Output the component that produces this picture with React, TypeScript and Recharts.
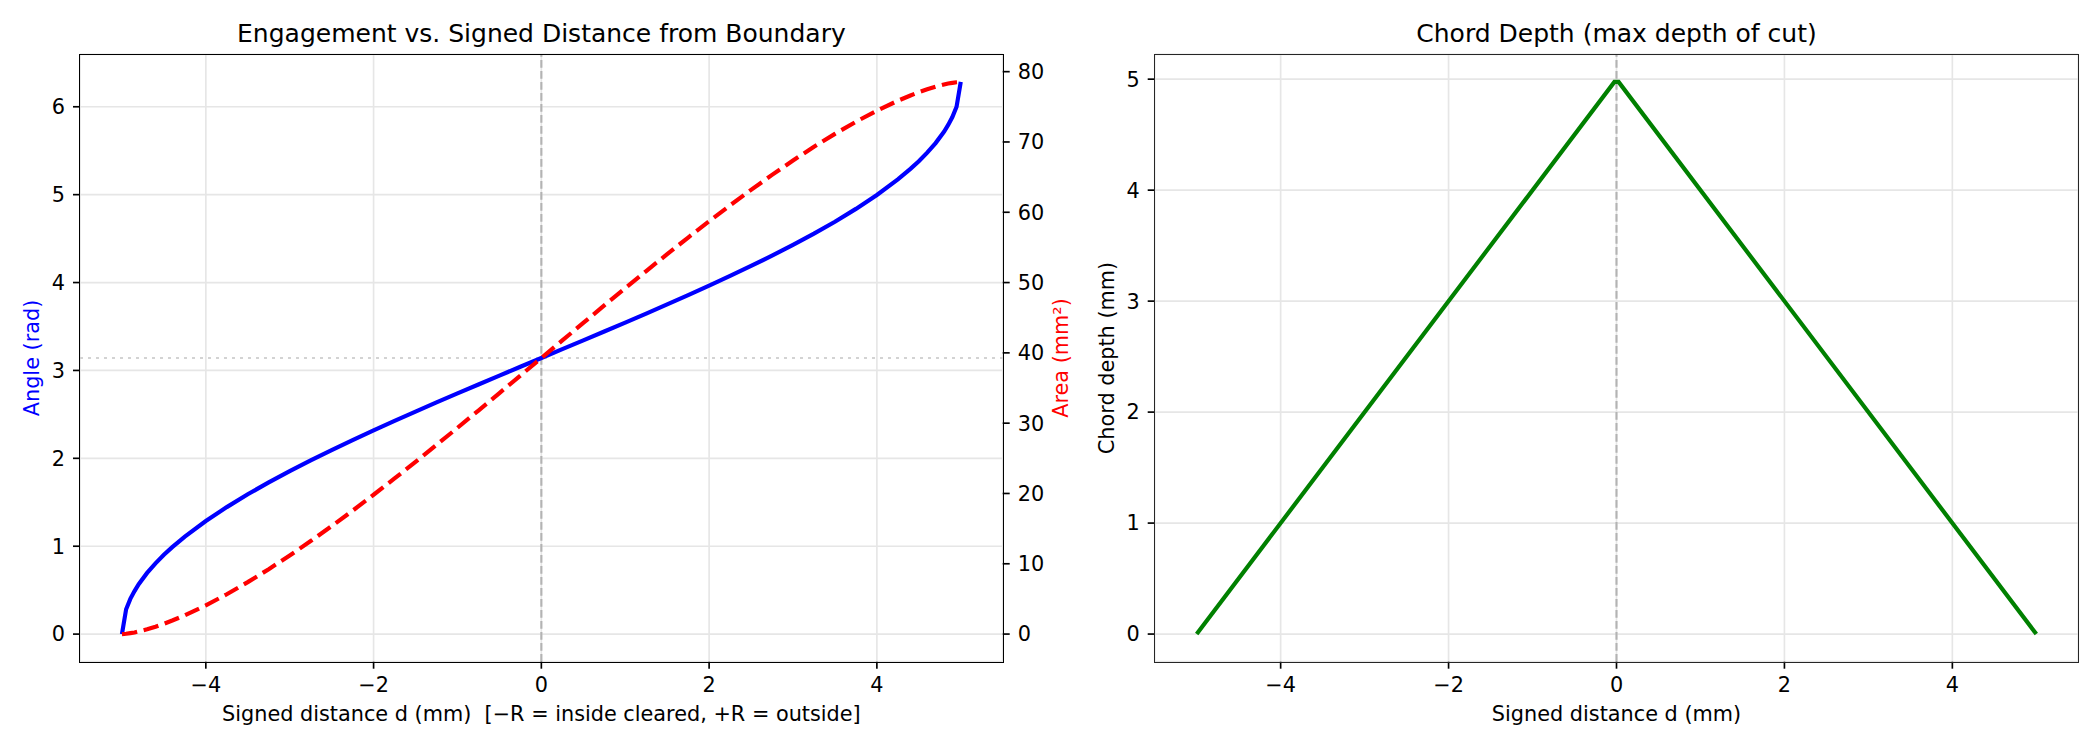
import React from 'react';
import { LineChart, Line, XAxis, YAxis, CartesianGrid, ReferenceLine } from 'recharts';

// signed distance d (mm)
const distances = [
  -5, -4.95, -4.9, -4.85, -4.8, -4.7, -4.6, -4.5, -4.4, -4.25, -4, -3.75, -3.5, -3.25, -3,
  -2.75, -2.5, -2.25, -2, -1.75, -1.5, -1.25, -1, -0.75, -0.5, -0.25, 0,
  0.25, 0.5, 0.75, 1, 1.25, 1.5, 1.75, 2, 2.25, 2.5, 2.75, 3, 3.25, 3.5, 3.75, 4,
  4.25, 4.4, 4.5, 4.6, 4.7, 4.8, 4.85, 4.9, 4.95, 5,
];
// engagement angle (rad), blue
const angleValues = [
  0, 0.283, 0.401, 0.49, 0.568, 0.696, 0.805, 0.902, 0.99, 1.11, 1.287, 1.445, 1.591, 1.726, 1.855,
  1.977, 2.094, 2.208, 2.319, 2.426, 2.532, 2.636, 2.739, 2.84, 2.941, 3.042, 3.142,
  3.242, 3.342, 3.443, 3.544, 3.647, 3.751, 3.857, 3.965, 4.075, 4.189, 4.306, 4.429, 4.557, 4.692, 4.838, 4.996,
  5.174, 5.293, 5.381, 5.478, 5.587, 5.716, 5.793, 5.883, 6.0, 6.283,
];
// engaged area (mm²), red dashed
const areaValues = [
  0, 0.047, 0.133, 0.229, 0.375, 0.687, 1.054, 1.468, 1.924, 2.676, 4.088, 5.666, 7.388, 9.232, 11.182,
  13.227, 15.355, 17.554, 19.817, 22.134, 24.498, 26.901, 29.337, 31.798, 34.278, 36.771, 39.27,
  41.769, 44.262, 46.742, 49.203, 51.639, 54.042, 56.406, 58.723, 60.986, 63.185, 65.313, 67.358, 69.309, 71.153, 72.874, 74.453,
  75.864, 76.616, 77.072, 77.486, 77.853, 78.165, 78.311, 78.407, 78.493, 78.54,
];

// right panel
const chordDistances = [-5, -0.025, 0.025, 5];
const chordDepths = [0, 4.975, 4.975, 0];

const xTicks = [-4, -2, 0, 2, 4];
const angleTicks = [0, 1, 2, 3, 4, 5, 6];
const areaTicks = [0, 10, 20, 30, 40, 50, 60, 70, 80];
const depthTicks = [0, 1, 2, 3, 4, 5];

const engagementData = distances.map((d, i) => ({ d, angle: angleValues[i], area: areaValues[i] }));
const chordData = chordDistances.map((d, i) => ({ d, depth: chordDepths[i] }));

const FONT = 'DejaVu Sans, Verdana, sans-serif';
const fmt = (v: number) => (v < 0 ? '\u2212' + Math.abs(v) : String(v));
const tickStyle = { fontSize: 20.8, fill: '#000', fontFamily: FONT };
const tickLine = { stroke: '#000', strokeWidth: 1.67 };

const text = (s: string, left: number, top: number, size: number, color = '#000', rotate = false) => (
  <div
    style={{
      position: 'absolute',
      left,
      top,
      fontSize: size,
      lineHeight: 1,
      color,
      fontFamily: FONT,
      whiteSpace: 'pre',
      transform: rotate ? 'translate(-50%, -50%) rotate(-90deg)' : 'translateX(-50%)',
    }}
  >
    {s}
  </div>
);

const frame = (left: number, right: number, color: string) => (
  <div
    style={{
      position: 'absolute',
      left: left - 0.8,
      top: 54.3 - 0.8,
      width: right - left,
      height: 661.7 - 54.3,
      border: `1.67px solid ${color}`,
      pointerEvents: 'none',
    }}
  />
);

export default function App() {
  return (
    <div style={{ position: 'absolute', left: 0, top: 0, width: 2100, height: 750, background: '#fff' }}>
      <div style={{ position: 'absolute', left: 0, top: 0 }}>
        <LineChart width={1100} height={750} data={engagementData} margin={{ top: 54.3, right: 0, bottom: 0, left: 0 }}>
          <CartesianGrid yAxisId="a" stroke="#e6e6e6" strokeWidth={1.67} />
          <XAxis
            dataKey="d"
            type="number"
            domain={[-5.5, 5.5]}
            ticks={xTicks}
            allowDataOverflow
            height={88.3}
            tickSize={7}
            tickMargin={9}
            tick={tickStyle}
            tickLine={tickLine}
            axisLine={false}
            tickFormatter={fmt}
          />
          <YAxis
            yAxisId="a"
            orientation="left"
            type="number"
            domain={[-0.314, 6.597]}
            ticks={angleTicks}
            allowDataOverflow
            width={80}
            tickSize={7}
            tickMargin={8}
            tick={tickStyle}
            tickLine={tickLine}
            axisLine={false}
          />
          <YAxis
            yAxisId="b"
            orientation="right"
            type="number"
            domain={[-3.93, 82.47]}
            ticks={areaTicks}
            allowDataOverflow
            width={97.3}
            tickSize={7}
            tickMargin={8}
            tick={tickStyle}
            tickLine={tickLine}
            axisLine={false}
          />
          <ReferenceLine yAxisId="a" x={0} stroke="#b3b3b3" strokeWidth={2.08} strokeDasharray="7.7 3.3" />
          <ReferenceLine yAxisId="a" y={3.1416} stroke="#d3d3d3" strokeWidth={2.08} strokeDasharray="3 5" />
          <Line
            yAxisId="a"
            dataKey="angle"
            type="linear"
            stroke="#0000ff"
            strokeWidth={4.17}
            dot={false}
            isAnimationActive={false}
          />
          <Line
            yAxisId="b"
            dataKey="area"
            type="linear"
            stroke="#ff0000"
            strokeWidth={4.17}
            strokeDasharray="15.4 6.7"
            dot={false}
            isAnimationActive={false}
          />
        </LineChart>
      </div>

      <div style={{ position: 'absolute', left: 1100, top: 0 }}>
        <LineChart width={1000} height={750} data={chordData} margin={{ top: 54.3, right: 21.7, bottom: 0, left: 0 }}>
          <CartesianGrid stroke="#e6e6e6" strokeWidth={1.67} />
          <XAxis
            dataKey="d"
            type="number"
            domain={[-5.5, 5.5]}
            ticks={xTicks}
            allowDataOverflow
            height={88.3}
            tickSize={7}
            tickMargin={9}
            tick={tickStyle}
            tickLine={tickLine}
            axisLine={false}
            tickFormatter={fmt}
          />
          <YAxis
            type="number"
            domain={[-0.249, 5.224]}
            ticks={depthTicks}
            allowDataOverflow
            width={54.7}
            tickSize={7}
            tickMargin={8}
            tick={tickStyle}
            tickLine={tickLine}
            axisLine={false}
          />
          <ReferenceLine x={0} stroke="#b3b3b3" strokeWidth={2.08} strokeDasharray="7.7 3.3" />
          <Line
            dataKey="depth"
            type="linear"
            stroke="#008000"
            strokeWidth={4.17}
            dot={false}
            isAnimationActive={false}
          />
        </LineChart>
      </div>

      {frame(80, 1002.7, '#000')}
      {frame(1154.7, 2078.3, '#262626')}

      {text('Engagement vs. Signed Distance from Boundary', 541.4, 21.2, 25)}
      {text('Chord Depth (max depth of cut)', 1616.5, 21.2, 25)}
      {text('Signed distance d (mm)  [\u2212R = inside cleared, +R = outside]', 541.4, 704.1, 20.8)}
      {text('Signed distance d (mm)', 1616.5, 704.1, 20.8)}
      {text('Angle (rad)', 31.6, 358, 20.8, '#0000ff', true)}
      {text('Area (mm\u00b2)', 1060.7, 358, 20.8, '#ff0000', true)}
      {text('Chord depth (mm)', 1106.7, 358, 20.8, '#000', true)}
    </div>
  );
}
